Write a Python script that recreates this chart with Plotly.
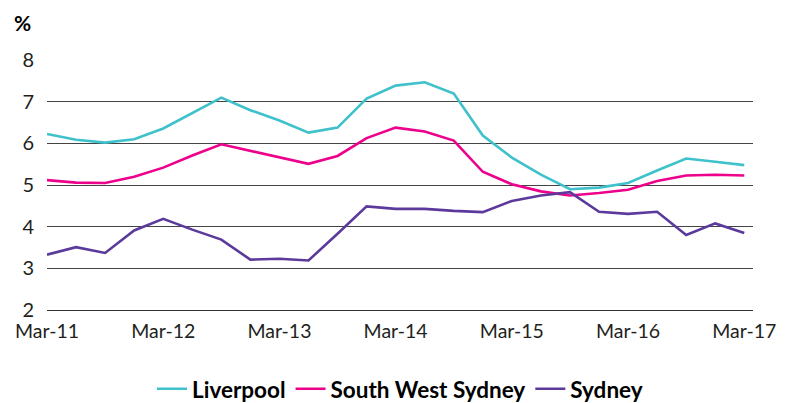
import plotly.graph_objects as go

quarters = ["Mar-11", "Jun-11", "Sep-11", "Dec-11",
            "Mar-12", "Jun-12", "Sep-12", "Dec-12",
            "Mar-13", "Jun-13", "Sep-13", "Dec-13",
            "Mar-14", "Jun-14", "Sep-14", "Dec-14",
            "Mar-15", "Jun-15", "Sep-15", "Dec-15",
            "Mar-16", "Jun-16", "Sep-16", "Dec-16",
            "Mar-17"]

liverpool = [6.23, 6.09, 6.02, 6.10, 6.36, 6.73, 7.10, 6.80, 6.55, 6.26, 6.38, 7.08,
             7.39, 7.47, 7.20, 6.19, 5.66, 5.25, 4.90, 4.94, 5.05, 5.35, 5.64, 5.56, 5.48]
south_west_sydney = [5.12, 5.06, 5.05, 5.20, 5.42, 5.71, 5.98, 5.82, 5.66, 5.51, 5.70, 6.13,
                     6.38, 6.29, 6.07, 5.32, 5.02, 4.85, 4.75, 4.81, 4.89, 5.10, 5.23, 5.25, 5.23]
sydney = [3.33, 3.51, 3.37, 3.91, 4.19, 3.93, 3.69, 3.21, 3.23, 3.19, 3.83, 4.49,
          4.43, 4.43, 4.38, 4.35, 4.62, 4.75, 4.83, 4.36, 4.31, 4.36, 3.80, 4.08, 3.85]

tick_labels = ["Mar-11", "Mar-12", "Mar-13", "Mar-14", "Mar-15", "Mar-16", "Mar-17"]
y_ticks = [2, 3, 4, 5, 6, 7, 8]

series = [
    ("Liverpool", liverpool, "#3FC1CB"),
    ("South West Sydney", south_west_sydney, "#EC008C"),
    ("Sydney", sydney, "#5C3A9C"),
]

idx = list(range(len(quarters)))
tick_idx = [quarters.index(t) for t in tick_labels]

fig = go.Figure()
for name, vals, color in series:
    fig.add_trace(go.Scatter(
        x=idx, y=vals, mode="lines", name=name,
        line=dict(color=color, width=2.6),
    ))

FONT = "Lato"
# page body has an 8px default margin, so the figure is sized to fit inside it
fig.update_layout(
    width=782, height=395,
    margin=dict(l=39, r=37, t=52, b=93, autoexpand=False),
    plot_bgcolor="white", paper_bgcolor="white",
    font=dict(family=FONT, size=20, color="#231F20"),
    showlegend=True,
    legend=dict(
        orientation="h", x=0.5, xanchor="center",
        yref="container", y=0.035, yanchor="middle",
        font=dict(family=FONT, size=22.5, color="#000000", weight="bold"),
        itemwidth=30, tracegroupgap=0,
    ),
    xaxis=dict(
        range=[0, 24.3], tickmode="array", tickvals=tick_idx, ticktext=tick_labels,
        showgrid=False, zeroline=False, showline=True, linecolor="#333333", linewidth=1,
        ticks="", ticklabelstandoff=4,
        tickfont=dict(family=FONT, size=19.5, color="#231F20"),
    ),
    yaxis=dict(
        range=[2, 8.005], tickmode="array", tickvals=y_ticks,
        showgrid=True, gridcolor="#444444", gridwidth=1.2, zeroline=False,
        showline=False, ticks="", ticklabelstandoff=12,
        tickfont=dict(family=FONT, size=20, color="#231F20"),
    ),
    annotations=[dict(
        text="<b>%</b>", xref="paper", yref="paper", x=-0.035, y=1.15,
        xanchor="center", yanchor="middle", showarrow=False,
        font=dict(family=FONT, size=21, color="#000000"),
    )],
)

fig.write_html("out.html")
